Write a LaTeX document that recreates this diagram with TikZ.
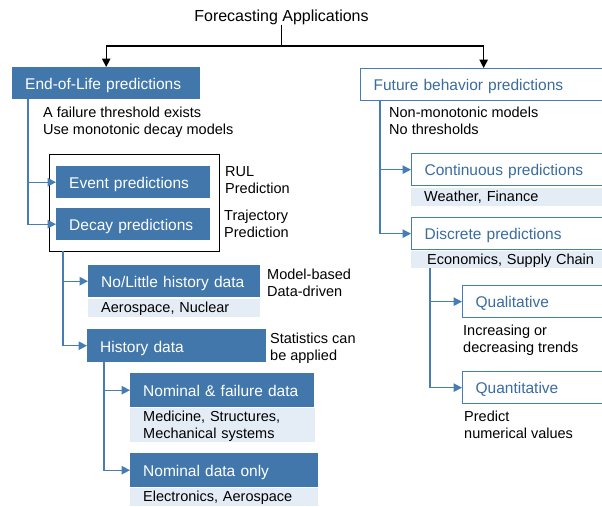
\documentclass[tikz,border=0pt]{standalone}
\usepackage{fontspec}
\setmainfont{Liberation Sans}
\usepackage{xcolor}
\usetikzlibrary{arrows.meta}

\definecolor{boxblue}{RGB}{65,119,171}
\definecolor{lineblue}{RGB}{70,125,180}
\definecolor{textblue}{RGB}{58,108,160}
\definecolor{bandblue}{RGB}{228,236,246}

\begin{document}
\begin{tikzpicture}[x=1pt,y=-1pt,>={Triangle[width=8.5pt,length=8.5pt]},
  fullbox/.style={rectangle,fill=boxblue,text=white,anchor=north west,inner xsep=13pt,inner ysep=0pt,minimum height=32pt,text width=#1,align=left,font=\fontsize{15.5}{17}\selectfont,execute at begin node={\rule[-3.4pt]{0pt}{19.4pt}}},
  linebox/.style={rectangle,draw=lineblue,line width=1.3pt,fill=white,text=textblue,anchor=north west,inner xsep=13pt,inner ysep=0pt,minimum height=32pt,text width=#1,align=left,font=\fontsize{15.5}{17}\selectfont,execute at begin node={\rule[-3.4pt]{0pt}{19pt}}},
  band/.style={rectangle,fill=bandblue,anchor=north west,inner xsep=13pt,inner ysep=0pt,minimum height=18pt,text width=#1,align=left,font=\fontsize{14.5}{17}\selectfont,execute at begin node={\rule[-3.3pt]{0pt}{16pt}}},
  note/.style={anchor=north west,inner sep=0pt,align=left,font=\fontsize{14.5}{17}\selectfont},
  framebox/.style={rectangle,draw=black,line width=1.3pt,anchor=north west,minimum width=170pt,minimum height=97pt},
  blueline/.style={draw=lineblue,line width=1.4pt},
  blackline/.style={draw=black,line width=1.3pt}]
  \useasboundingbox (0,0) rectangle (602,506);
  \clip (0,0) rectangle (602,506);

  \node[inner sep=0pt,font=\fontsize{16}{18}\selectfont] (title) at (281.5,17) {Forecasting Applications};

  % end-of-life side
  \node[fullbox=162] (eol) at (12,67) {End-of-Life predictions};
  \node[note] (eolnote) at (43,106.5) {A failure threshold exists\\Use monotonic decay models};
  \node[framebox] (frame) at (49,154) {};
  \node[fullbox=128] (event) at (56,166) {Event predictions};
  \node[fullbox=128] (decay) at (56,208) {Decay predictions};
  \node[note] (rul) at (225,166) {RUL\\Prediction};
  \node[note] (traj) at (224,209.5) {Trajectory\\Prediction};
  \node[fullbox=146] (nolittle) at (88,265) {No/Little history data};
  \node[band=146] (nolittleapp) at (88,299) {Aerospace, Nuclear};
  \node[note] (modelnote) at (267,268.5) {Model-based\\Data-driven};
  \node[fullbox=153,minimum height=33pt] (history) at (87,329) {History data};
  \node[note] (statnote) at (270,332.5) {Statistics can\\be applied};
  \node[fullbox=158,minimum height=34pt] (nomfail) at (130,373) {Nominal \& failure data};
  \node[band=159,minimum height=34pt] (nomfailapp) at (130,408) {Medicine, Structures,\\Mechanical systems};
  \node[fullbox=162,minimum height=34pt] (nomonly) at (130,453) {Nominal data only};
  \node[band=162] (nomonlyapp) at (130,488) {Electronics, Aerospace};

  % future behavior side
  \node[linebox=220] (future) at (360,68) {Future behavior predictions};
  \node[note] (futnote) at (389,106.5) {Non-monotonic models\\No thresholds};
  \node[linebox=183] (cont) at (411,153) {Continuous predictions};
  \node[band=183] (contapp) at (411,188) {Weather, Finance};
  \node[linebox=183] (disc) at (411,217) {Discrete predictions};
  \node[band=180,inner xsep=16pt,minimum height=17pt] (discapp) at (411,251) {Economics, Supply Chain};
  \node[linebox=132] (qual) at (462,285) {Qualitative};
  \node[note] (qualnote) at (463,325) {Increasing or\\decreasing trends};
  \node[linebox=132] (quant) at (462,371) {Quantitative};
  \node[note] (quantnote) at (464,410.5) {Predict\\numerical values};

  % connectors
  \coordinate (fork) at (281.5,46);
  \draw[blackline] (title) -- (fork);
  \draw[blackline,->] (fork) -| (eol);
  \draw[blackline,->] (fork) -| (future);

  \coordinate (eoltrunk) at (28,99);
  \draw[blueline,->] (eoltrunk) |- (event);
  \draw[blueline,->] (eoltrunk) |- (decay);
  \coordinate (frametrunk) at (63,251);
  \draw[blueline,->] (frametrunk) |- (nolittle);
  \draw[blueline,->] (frametrunk) |- (history);
  \coordinate (histtrunk) at (104,362);
  \draw[blueline,->] (histtrunk) |- (nomfail);
  \draw[blueline,->] (histtrunk) |- (nomonly);

  \coordinate (futtrunk) at (380,100);
  \draw[blueline,->] (futtrunk) |- (cont);
  \draw[blueline,->] (futtrunk) |- (disc);
  \coordinate (disctrunk) at (430,268);
  \draw[blueline,->] (disctrunk) |- (qual);
  \draw[blueline,->] (disctrunk) |- (quant);
\end{tikzpicture}
\end{document}
